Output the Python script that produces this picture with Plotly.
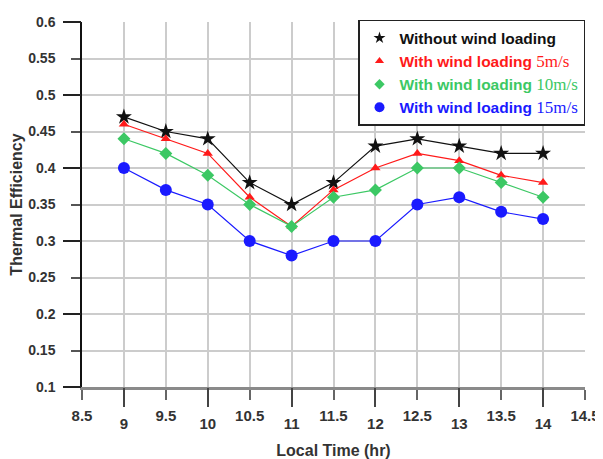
import plotly.graph_objects as go

hours = [9, 9.5, 10, 10.5, 11, 11.5, 12, 12.5, 13, 13.5, 14]
no_wind = [0.47, 0.45, 0.44, 0.38, 0.35, 0.38, 0.43, 0.44, 0.43, 0.42, 0.42]
wind_5 = [0.46, 0.44, 0.42, 0.36, 0.32, 0.37, 0.40, 0.42, 0.41, 0.39, 0.38]
wind_10 = [0.44, 0.42, 0.39, 0.35, 0.32, 0.36, 0.37, 0.40, 0.40, 0.38, 0.36]
wind_15 = [0.40, 0.37, 0.35, 0.30, 0.28, 0.30, 0.30, 0.35, 0.36, 0.34, 0.33]

x_half_ticks = [8.5, 9.5, 10.5, 11.5, 12.5, 13.5, 14.5]
x_half_text = ["8.5", "9.5", "10.5", "11.5", "12.5", "13.5", "14.5"]
x_int_ticks = [9, 10, 11, 12, 13, 14]
x_int_text = ["9", "10", "11", "12", "13", "14"]
y_tickvals = [0.1, 0.15, 0.2, 0.25, 0.3, 0.35, 0.4, 0.45, 0.5, 0.55, 0.6]
y_ticktext = ["0.1", "0.15", "0.2", "0.25", "0.3", "0.35", "0.4", "0.45", "0.5", "0.55", "0.6"]
y_major_ticks = [0.1, 0.2, 0.3, 0.4, 0.5, 0.6]

serif = "Liberation Serif"
sans = "'Liberation Sans', Arial, sans-serif"

def nm(label, unit, color):
    s = "<span style=\"color:" + color + "\"><b>" + label + "</b>"
    if unit is not None:
        s += " <span style=\"font-family:" + serif + "; font-size:17px\">" + unit + "</span>"
    return s + "</span>"

series = [
    (no_wind, "Without wind loading", None, "#111111", "star", 12, 9),
    (wind_5, "With wind loading", "5m/s", "#ff1a1a", "triangle-up", 9, 8),
    (wind_10, "With wind loading", "10m/s", "#3cc864", "diamond", 10, 8),
    (wind_15, "With wind loading", "15m/s", "#1a1aff", "circle", 12, 10),
]

fig = go.Figure()
for vals, label, unit, color, sym, size, lsize in series:
    fig.add_trace(go.Scatter(
        x=hours, y=vals, mode="lines+markers", showlegend=False,
        line=dict(color=color, width=1.2),
        marker=dict(symbol=sym, size=size, color=color),
    ))
for vals, label, unit, color, sym, size, lsize in series:
    fig.add_trace(go.Scatter(
        x=[None], y=[None], mode="markers", name=nm(label, unit, color),
        marker=dict(symbol=sym, size=lsize, color=color),
        xaxis="x2", yaxis="y2",
    ))

axis_font = dict(size=15, color="#333333", weight="bold", family=sans)

fig.update_layout(
    width=595, height=451,
    margin=dict(l=74, r=18, t=12, b=72),
    plot_bgcolor="white", paper_bgcolor="white",
    font=dict(family=sans, color="#333333", size=12),
    showlegend=True,
    legend=dict(
        x=1.0, y=1.006, xanchor="right", yanchor="top",
        bgcolor="white", bordercolor="#222222", borderwidth=1.5,
        font=dict(size=15.5, family=sans),
        tracegroupgap=0, itemwidth=30,
    ),
    xaxis=dict(
        range=[8.5, 14.5], tickmode="array", tickvals=x_half_ticks, ticktext=x_half_text,
        showgrid=True, gridcolor="#cccccc", gridwidth=2,
        showline=True, linecolor="#8a8a8a", linewidth=3,
        ticks="outside", ticklen=10, tickcolor="#666666", tickwidth=1.5,
        tickfont=axis_font, ticklabelstandoff=3, automargin=False,
        title=dict(text="<b>Local Time (hr)</b>", font=dict(size=16, color="#333333"), standoff=22),
        zeroline=False,
    ),
    xaxis2=dict(
        range=[8.5, 14.5], overlaying="x", anchor="y", side="bottom",
        tickmode="array", tickvals=x_int_ticks, ticktext=x_int_text,
        showgrid=True, gridcolor="#cccccc", gridwidth=2, showline=False,
        ticks="outside", ticklen=19, tickcolor="#444444", tickwidth=1.5,
        tickfont=axis_font, ticklabelstandoff=4, automargin=False, zeroline=False,
    ),
    yaxis=dict(
        range=[0.1, 0.6], tickmode="array", tickvals=y_tickvals, ticktext=y_ticktext,
        showgrid=True, gridcolor="#cccccc", gridwidth=2,
        showline=True, linecolor="#111111", linewidth=1.5,
        ticks="outside", ticklen=9, tickcolor="#555555", tickwidth=1.5,
        tickfont=dict(size=14, color="#333333", weight="bold", family=sans),
        ticklabelstandoff=13, automargin=False,
        title=dict(text="<b>Thermal Efficiency</b>", font=dict(size=16, color="#333333"), standoff=8),
        zeroline=False,
    ),
    yaxis2=dict(
        range=[0.1, 0.6], overlaying="y", anchor="x", side="left",
        tickmode="array", tickvals=y_major_ticks, showticklabels=False,
        showgrid=False, showline=False,
        ticks="outside", ticklen=18, tickcolor="#222222", tickwidth=1.5,
        automargin=False, zeroline=False,
    ),
)

fig.write_html("out.html")
